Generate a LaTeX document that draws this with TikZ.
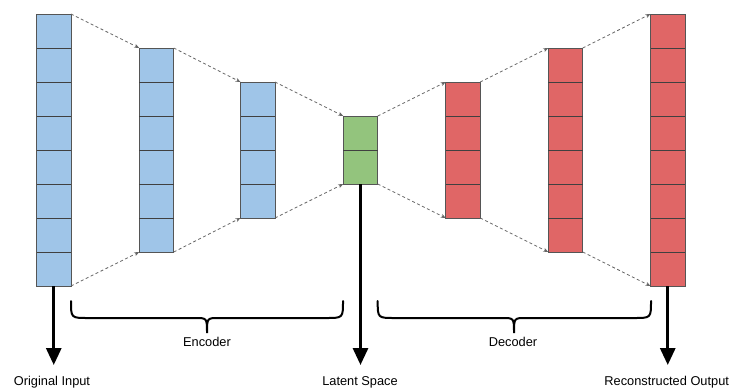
\documentclass[tikz,border=0pt]{standalone}
\usepackage{fontspec}
\setmainfont{Liberation Sans}
\usetikzlibrary{arrows.meta}
\definecolor{encblue}{HTML}{9FC5E8}
\definecolor{latgreen}{HTML}{93C47D}
\definecolor{decred}{HTML}{E06666}
\definecolor{edge}{HTML}{555555}
\tikzset{
  layer/.style={draw=edge, line width=0.9pt, fill=#1, minimum width=34.5pt,
    inner sep=0pt, outer sep=0pt},
  cellline/.style={draw=black!75, line width=0.9pt},
  link/.style={draw=black!60, line width=0.8pt, dash pattern=on 3pt off 2.5pt,
    -{Stealth[length=5pt,width=4pt]}},
  output/.style={line width=3pt, -{Triangle[length=17pt,width=15pt]}},
  brace/.style={line width=2pt, line cap=round},
  caption/.style={font=\fontsize{12.8}{14}\selectfont, anchor=base, inner sep=0pt}
}
% a stacked layer: name, centre x, cells, cells-1, fill colour
\newcommand\layercol[5]{%
  \node[layer=#5, minimum height=#3*34pt] (#1) at (#2,150) {};
  \foreach \k in {1,...,#4}{
    \draw[cellline] ([yshift=-\k*34pt]#1.north west) -- ([yshift=-\k*34pt]#1.north east);
  }
}
\begin{document}
\begin{tikzpicture}[x=1pt,y=-1pt]
  \useasboundingbox (0,0) rectangle (744,388);

  % encoder, latent code and decoder layers
  \layercol{c1}{53.75}{8}{7}{encblue}
  \layercol{c2}{156.5}{6}{5}{encblue}
  \layercol{c3}{257.75}{4}{3}{encblue}
  \layercol{lat}{360.5}{2}{1}{latgreen}
  \layercol{c5}{463}{4}{3}{decred}
  \layercol{c6}{565.5}{6}{5}{decred}
  \layercol{c7}{667.75}{8}{7}{decred}

  % dashed projections between neighbouring layers
  \foreach \a/\b in {c1/c2, c2/c3, c3/lat, lat/c5, c5/c6, c6/c7}{
    \draw[link] (\a.north east) -- (\b.north west);
    \draw[link] (\a.south east) -- (\b.south west);
  }

  % braces grouping encoder and decoder
  \draw[brace] (71,301) .. controls (71,318) .. (88,318) -- (195,318)
    .. controls (207,318) .. (207,333) .. controls (207,318) .. (219,318)
    -- (326,318) .. controls (343,318) .. (343,301);
  \draw[brace] (377.7,301) .. controls (377.7,318) .. (394.7,318) -- (502,318)
    .. controls (514,318) .. (514,333) .. controls (514,318) .. (526,318)
    -- (634,318) .. controls (651,318) .. (651,301);
  \node[caption] (encLbl) at (207,346) {Encoder};
  \node[caption] (decLbl) at (513,346) {Decoder};

  % outputs of the three stages
  \coordinate (inTip) at (53.75,365);
  \coordinate (latTip) at (360.5,365);
  \coordinate (outTip) at (667.75,365);
  \draw[output] (c1.south) -- (inTip);
  \draw[output] (lat.south) -- (latTip);
  \draw[output] (c7.south) -- (outTip);
  \node[caption] (inLbl) at (52,385) {Original Input};
  \node[caption] (latLbl) at (360,385) {Latent Space};
  \node[caption] (outLbl) at (666.7,385) {Reconstructed Output};
\end{tikzpicture}
\end{document}
